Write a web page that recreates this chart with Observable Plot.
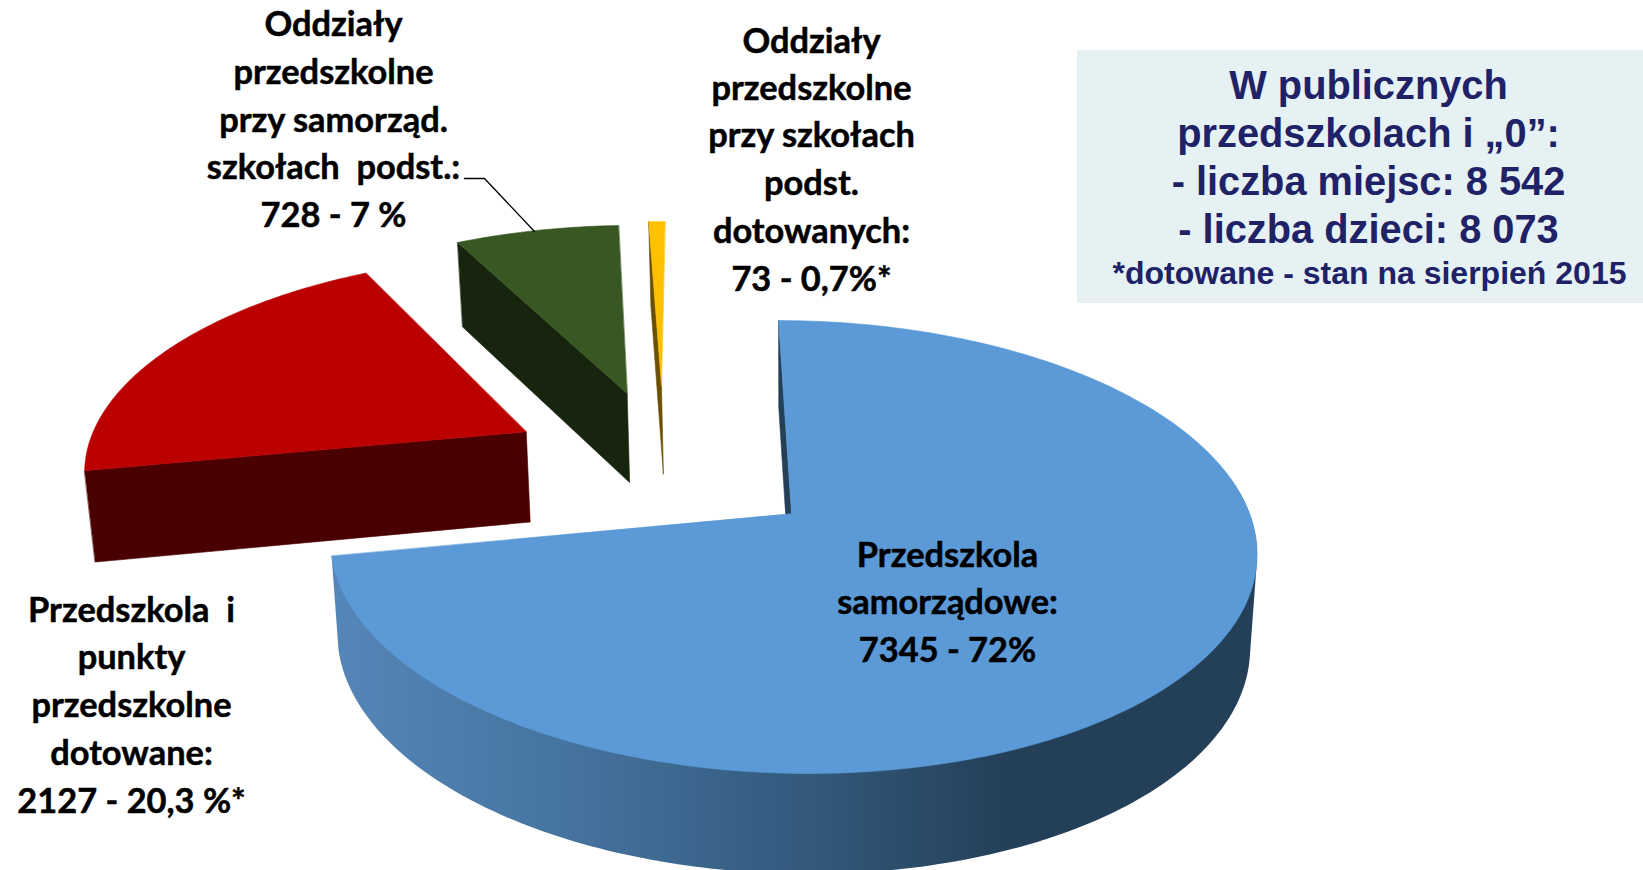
<!DOCTYPE html>
<html lang="pl"><head><meta charset="utf-8">
<style>html,body{margin:0;padding:0;background:#fff}svg{display:block}</style>
<script src="https://cdn.jsdelivr.net/npm/d3@7"></script>
<script src="https://cdn.jsdelivr.net/npm/@observablehq/plot@0.6"></script>
</head><body><div id="chart"></div>
<script>
// DATA
const sliceNames = ["Przedszkola samorządowe","Przedszkola i punkty przedszkolne dotowane","Oddziały przy samorząd. szkołach podst.","Oddziały przy szkołach podst. dotowanych"];
const sliceCounts = [7345, 2127, 728, 73];
const slicePercents = [72, 20.3, 7, 0.7];
const topColors = ["#5b9ad6","#bb0000","#385722","#ffc000"];
const wallColors = ["#243f58","#4a0000","#17240e","#6a5000"];
const sideStops = [335, 560, 800, 1010];
const sideColors = ["#5586b8","#4674a0","#335a7d","#243f58"];
const labelPredszk = ["Przedszkola","samorządowe:","7345 - 72%"];
const labelDotowane = ["Przedszkola  i","punkty","przedszkolne","dotowane:","2127 - 20,3 %*"];
const labelSamorzad = ["Oddziały","przedszkolne","przy samorząd.","szkołach  podst.:","728 - 7 %"];
const labelSzkoly = ["Oddziały","przedszkolne","przy szkołach","podst.","dotowanych:","73 - 0,7%*"];
const boxBig = ["W publicznych","przedszkolach i „0”:","- liczba miejsc: 8 542","- liczba dzieci: 8 073"];
const boxSmall = "*dotowane - stan na sierpień 2015";

// exploded-pie geometry (perspective view of a tilted disk)
const explode = [[0,0],[-.6,-.39],[-.371,-.589],[-.29,-.632]];
const radiusX = [1, 1, 1.012, 1.005];
const radiusY = [1, 1.02, 1.022, 1.005];
const cx = 791, cy = 513, rx = 458, ry = 221.5, persp = .148, shear = .067;
const project = (X, Y) => {
  const w = 1 - persp * Y, y = cy + ry * Y / w;
  return [cx + rx * X / w + shear * (y - cy), y];
};
const lower = ([x, y]) => [cx + (x - cx) * .985, y + 84 + (y - 225) * .03];

const arcs = d3.pie().sort(null).value(d => d)(slicePercents);
const pt = (i, a) => project(explode[i][0] + radiusX[i] * Math.sin(a), explode[i][1] - radiusY[i] * Math.cos(a));
const centre = i => project(explode[i][0], explode[i][1]);
const rim = (a0, a1) => {
  const n = Math.max(2, Math.ceil((a1 - a0) * 180 / Math.PI));
  return d3.range(n + 1).map(k => a0 + (a1 - a0) * k / n);
};
const row = (p, i) => ({x: p[0], y: p[1], i});
const tops = [], walls = [];
arcs.forEach((s, i) => {
  const apex = centre(i), angles = rim(s.startAngle, s.endAngle);
  [apex, ...angles.map(a => pt(i, a))].forEach(p => tops.push(row(p, i)));
  const edge = pt(i, s.startAngle);
  [edge, apex, lower(apex), lower(edge)].forEach(p => walls.push(row(p, i)));
});
// outer rim of the big slice: silhouette of its front part, top and bottom rims together
const frontRim = rim(Math.PI * .45, arcs[0].endAngle).map(a => pt(0, a));
const side = d3.polygonHull([...frontRim, ...frontRim.map(lower)]).map(p => row(p, 0));

// horizontal shading of the outer rim, as an SVG gradient in plot coordinates
const sideShade = () => {
  const svg = d3.create("svg:g");
  const g = svg.append("defs").append("linearGradient").attr("id", "sideShade")
    .attr("gradientUnits", "userSpaceOnUse")
    .attr("x1", sideStops[0]).attr("x2", sideStops[sideStops.length - 1]).attr("y1", 0).attr("y2", 0);
  sideStops.forEach((s, k) => g.append("stop")
    .attr("offset", (s - sideStops[0]) / (sideStops[sideStops.length - 1] - sideStops[0]))
    .attr("stop-color", sideColors[k]));
  return svg.node();
};

const lines = (arr, x, ys) => arr.map((text, k) => ({text, x, y: ys[k]}));
const slicePart = (data, i, colour) => Plot.line(data.filter(d => d.i === i), {x: "x", y: "y", curve: "linear-closed", fill: colour, stroke: colour, strokeWidth: .6});
const calibri = {text: "text", x: "x", y: "y", fontFamily: "Lato", fontWeight: 700, fontSize: 34.4, fill: "#000", stroke: "#000", strokeWidth: .5, textAnchor: "middle", lineAnchor: "middle"};
const arial = {text: "text", x: "x", y: "y", fontFamily: "Liberation Sans", fontWeight: 700, fill: "#1f2267", textAnchor: "middle", lineAnchor: "middle"};

const marks = [
  sideShade,
  Plot.rect([{x1: 1077, x2: 1643, y1: 50, y2: 303}], {x1: "x1", x2: "x2", y1: "y1", y2: "y2", fill: "#e6f1f4"}),
  Plot.text(lines(boxBig, 1368, [86, 134, 182, 230]), {...arial, fontSize: 39.8}),
  Plot.text(lines([boxSmall], 1369, [273]), {...arial, fontSize: 32}),
];
for (const i of [3, 2, 1]) {
  marks.push(slicePart(walls, i, wallColors[i]), slicePart(tops, i, topColors[i]));
}
marks.push(
  slicePart(walls, 0, wallColors[0]),
  Plot.line(side, {x: "x", y: "y", curve: "linear-closed", fill: "url(#sideShade)"}),
  slicePart(tops, 0, topColors[0]),
  Plot.line([{x: 464, y: 178}, {x: 484, y: 178}, {x: 534, y: 231}], {x: "x", y: "y", stroke: "#000", strokeWidth: 1.3}),
  Plot.text(lines(labelSamorzad, 333, [24, 72, 120, 167, 215]), calibri),
  Plot.text(lines(labelSzkoly, 811, [41, 88, 135, 183, 231, 279]), calibri),
  Plot.text(lines(labelPredszk, 947, [555, 602, 650]), calibri),
  Plot.text(lines(labelDotowane, 131, [610, 657, 705, 753, 801]), calibri)
);

document.getElementById("chart").append(Plot.plot({
  width: 1643, height: 870, margin: 0,
  x: {domain: [0, 1643], range: [0, 1643], axis: null},
  y: {domain: [0, 870], range: [0, 870], axis: null},
  marks
}));
</script></body></html>
